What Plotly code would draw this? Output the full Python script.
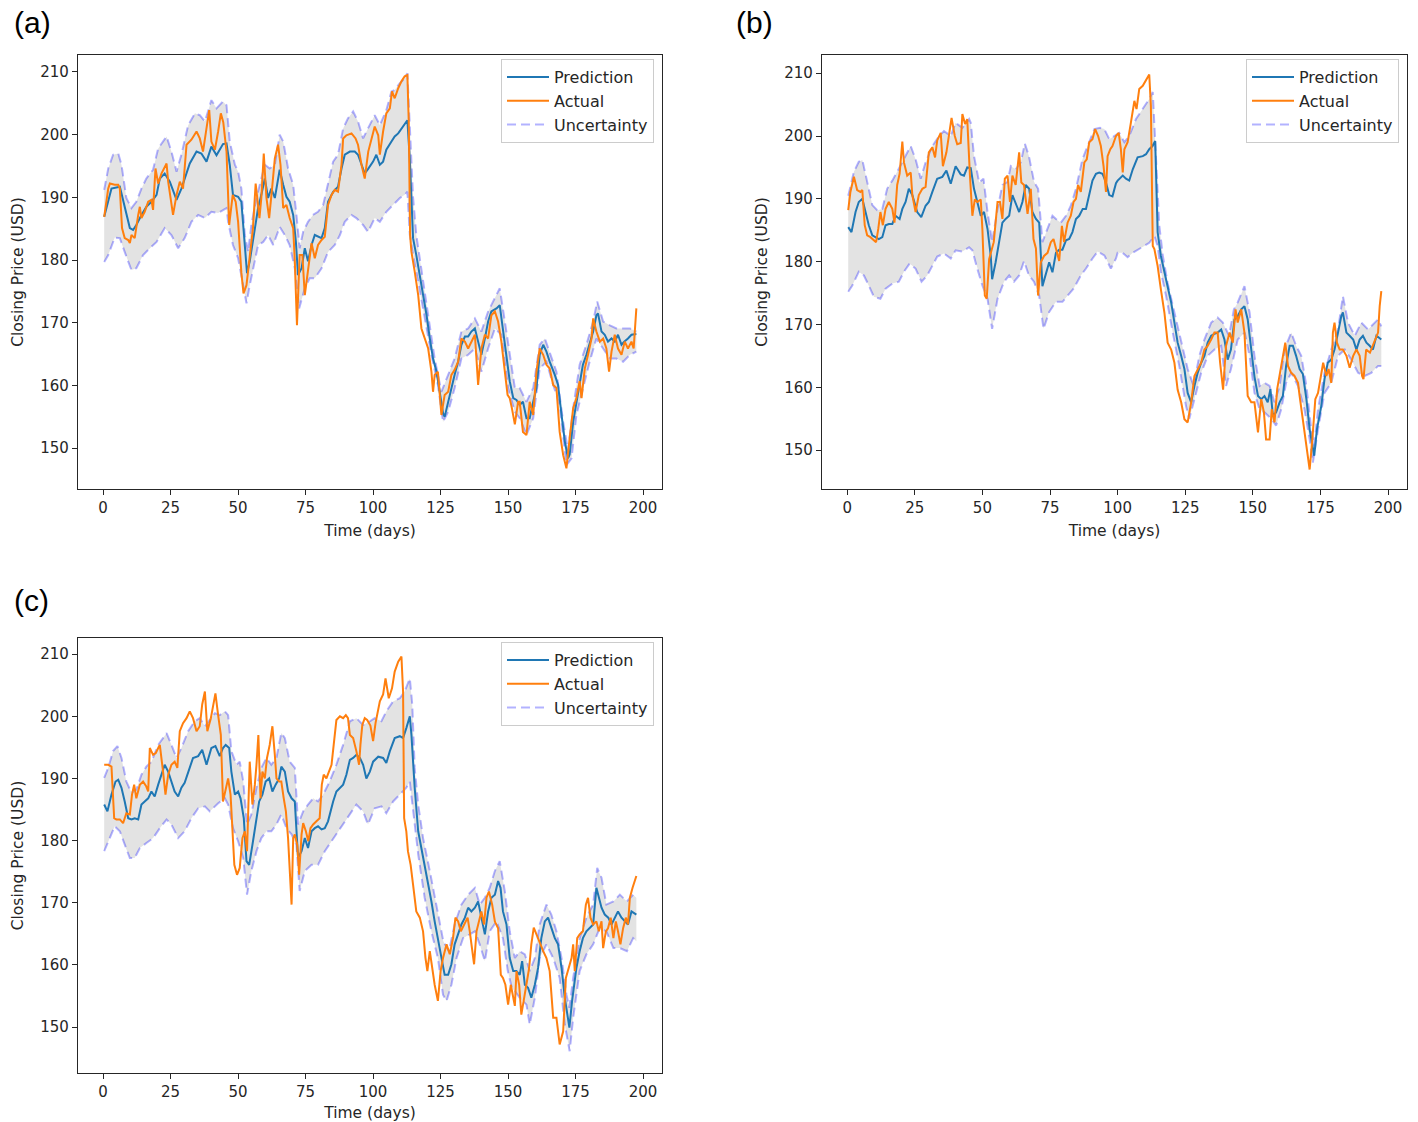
import plotly.graph_objects as go

# ---------------------------------------------------------------------------
# Data: (day, closing price in USD) pairs for each series of each panel
# ---------------------------------------------------------------------------

# Panel (a)
A_ACTUAL = [(0.4,186.9),(1.9,191.4),(2.5,192.2),(4.3,192.0),(5.6,192.0),(6.2,191.4),(7.0,185.1),(8.0,183.5),(9.3,183.2),(9.9,182.7),(10.5,184.0),(11.7,183.5),(13.0,187.2),(13.6,188.5),(14.2,186.7),(15.4,187.7),(16.7,189.3),(17.9,189.6),(18.5,188.0),(19.4,194.6),(20.4,192.2),(21.6,193.8),(23.5,195.4),(24.1,192.5),(25.9,187.2),(27.2,190.4),(28.4,192.5),(29.6,191.4),(30.9,198.4),(32.7,199.2),(34.6,200.5),(35.8,199.4),(37.0,197.3),(38.3,201.0),(39.3,203.9),(40.1,198.9),(41.4,197.6),(42.6,200.5),(43.6,203.4),(44.5,202.0),(45.7,197.3),(46.7,185.6),(48.0,190.4),(49.1,189.3),(50.0,186.1),(51.2,178.0),(52.0,174.7),(53.1,176.0),(54.3,180.8),(55.5,185.1),(56.5,192.2),(57.4,188.3),(57.9,186.7),(58.6,189.9),(59.5,197.0),(60.5,189.9),(61.5,186.7),(62.7,192.0),(63.6,196.2),(64.8,198.4),(65.7,195.2),(66.7,188.3),(67.9,188.8),(69.1,186.7),(70.4,185.1),(71.0,179.8),(71.8,169.6),(72.8,180.8),(73.8,180.8),(74.7,174.4),(76.0,178.7),(77.2,182.7),(78.4,180.3),(79.6,182.4),(80.9,183.2),(82.1,183.7),(83.3,188.8),(84.6,190.4),(85.8,191.2),(87.0,190.9),(88.3,195.2),(88.9,199.4),(90.1,199.9),(92.0,200.2),(93.5,199.4),(94.4,198.4),(95.7,195.2),(96.9,193.0),(98.2,197.3),(99.4,199.4),(100.6,201.3),(101.9,199.9),(102.5,196.8),(103.7,200.5),(104.9,203.4),(106.2,204.2),(107.0,206.9),(108.0,205.8),(109.3,207.4),(110.5,208.5),(111.7,209.3),(112.7,209.5),(113.2,202.1),(113.7,184.0),(114.2,181.3),(115.4,178.2),(116.7,174.4),(117.9,169.1),(119.1,167.5),(120.4,165.9),(121.6,162.2),(122.2,159.0),(122.8,161.7),(124.0,162.2),(125.3,155.3),(126.5,158.5),(127.8,159.0),(129.0,161.7),(130.2,162.5),(131.5,163.8),(132.7,167.5),(134.0,167.0),(135.2,165.9),(136.4,167.0),(137.7,168.1),(138.9,160.1),(140.1,165.9),(141.4,168.1),(142.6,167.5),(143.8,171.2),(145.1,171.8),(146.3,170.2),(147.5,167.0),(149.8,158.5),(150.6,158.0),(151.4,156.4),(152.5,153.8),(153.7,157.4),(154.3,157.4),(155.5,152.6),(156.8,152.1),(158.0,157.4),(159.3,155.3),(160.5,162.2),(161.7,165.9),(163.0,164.9),(164.2,163.3),(165.4,162.7),(166.7,160.1),(167.9,159.6),(169.1,152.6),(170.4,148.9),(171.6,146.8),(172.8,151.6),(174.1,156.4),(175.3,158.0),(176.5,160.7),(177.2,158.0),(178.4,162.7),(179.6,164.9),(180.9,167.5),(181.5,170.7),(182.7,168.6),(184.0,167.0),(185.2,167.5),(186.4,165.9),(187.4,162.2),(188.3,165.4),(189.5,168.1),(190.7,165.9),(192.0,164.9),(193.2,167.0),(194.4,165.9),(195.7,167.0),(196.5,165.9),(197.5,172.3)]

A_PRED = [(0.4,186.9),(3.1,191.4),(6.2,191.7),(8.0,188.3),(9.9,185.1),(11.1,184.8),(12.3,185.6),(14.2,187.2),(16.0,188.5),(17.9,189.3),(19.8,190.4),(21.0,193.0),(22.8,193.8),(24.7,192.5),(27.2,189.6),(29.0,191.4),(32.1,195.4),(34.6,197.3),(36.4,197.0),(38.3,195.7),(40.1,198.1),(42.0,196.7),(44.4,198.5),(45.7,198.6),(46.9,195.2),(48.1,190.4),(50.0,190.1),(51.2,189.3),(51.9,185.0),(53.3,177.9),(54.3,179.8),(56.2,185.1),(57.4,188.3),(58.6,190.4),(59.9,193.0),(61.1,189.9),(62.3,191.4),(63.6,189.9),(65.4,194.4),(66.7,192.0),(67.9,190.1),(69.1,189.3),(70.4,187.2),(71.4,182.9),(72.2,177.6),(73.5,178.7),(74.7,181.9),(75.9,179.8),(77.2,182.4),(78.4,184.0),(79.6,183.7),(80.9,183.5),(82.1,185.1),(83.3,189.3),(85.2,190.9),(87.0,191.7),(88.3,194.6),(89.5,196.8),(91.4,197.3),(93.2,197.3),(94.4,196.8),(95.7,195.2),(96.9,193.8),(98.1,194.5),(100.0,195.7),(101.2,196.8),(102.5,195.2),(103.7,195.7),(104.9,197.6),(106.8,198.9),(108.0,199.7),(109.3,200.2),(110.5,201.0),(111.7,201.8),(112.7,202.3),(113.6,196.0),(114.2,188.8),(114.8,183.5),(116.0,180.8),(117.3,177.6),(118.5,174.4),(119.8,171.2),(121.0,167.5),(122.2,164.3),(123.5,162.2),(124.7,159.0),(125.9,155.6),(126.5,155.0),(128.1,158.0),(129.3,160.1),(130.2,161.7),(131.5,163.8),(132.7,166.5),(134.0,167.8),(135.2,167.8),(136.4,168.6),(137.7,169.1),(138.9,167.0),(140.1,164.9),(141.4,167.5),(142.6,170.2),(143.8,171.8),(145.7,172.3),(146.9,172.8),(148.1,168.6),(149.4,164.9),(150.6,160.7),(151.9,158.0),(153.1,157.7),(154.3,156.9),(155.5,157.4),(156.8,154.8),(158.0,154.8),(159.3,157.4),(160.5,159.6),(161.7,164.9),(163.0,166.5),(164.2,165.4),(165.4,163.8),(167.3,161.7),(168.5,160.1),(169.8,155.3),(171.0,151.1),(172.2,148.4),(172.8,149.0),(174.1,154.2),(175.3,157.4),(176.5,160.7),(177.7,163.3),(179.0,164.9),(180.2,166.5),(181.5,168.6),(182.7,171.2),(183.3,171.5),(184.6,168.6),(185.8,168.1),(187.0,167.0),(188.3,167.5),(189.5,167.0),(190.7,168.1),(192.0,166.5),(193.0,167.0),(194.4,167.5),(195.7,168.1),(197.5,168.2)]

A_UPPER = [(0.4,191.2),(1.9,194.6),(3.7,196.8),(5.6,197.0),(6.8,195.2),(8.6,189.9),(10.5,188.3),(12.3,189.3),(14.2,191.4),(16.0,193.0),(18.5,194.4),(20.4,197.8),(23.5,199.7),(25.3,197.3),(27.2,194.1),(29.0,196.8),(31.5,201.5),(34.0,203.4),(35.8,203.1),(37.7,202.1),(40.1,205.5),(42.0,204.2),(44.4,205.3),(45.7,204.7),(46.9,198.9),(48.8,195.2),(50.0,194.1),(51.2,191.4),(52.5,184.0),(53.7,181.3),(54.9,185.6),(56.8,189.9),(58.6,193.0),(59.9,195.2),(61.7,194.6),(63.6,195.2),(65.4,200.0),(66.7,198.9),(68.5,194.6),(70.4,192.0),(71.6,187.2),(72.8,181.9),(74.1,184.5),(75.9,186.1),(77.7,187.2),(79.6,187.7),(81.5,188.8),(83.3,192.0),(85.2,195.7),(87.0,196.8),(88.9,201.0),(90.7,202.6),(92.6,203.7),(94.4,202.1),(96.3,199.4),(98.1,201.0),(100.0,202.6),(100.6,203.1),(102.5,201.5),(104.9,203.9),(106.8,206.9),(108.0,207.1),(109.9,208.2),(111.7,209.0),(112.7,209.8),(113.6,202.1),(114.8,190.0),(116.0,184.0),(117.9,178.2),(120.4,171.2),(122.8,164.3),(125.3,159.0),(127.8,161.7),(130.2,164.3),(132.7,168.6),(135.2,169.1),(137.7,170.7),(140.1,168.6),(142.6,171.8),(145.1,174.0),(146.9,175.5),(148.8,170.2),(151.4,162.2),(152.5,159.6),(154.3,159.6),(156.8,157.4),(159.3,159.6),(161.7,166.5),(163.6,167.5),(165.4,165.4),(167.9,162.2),(170.4,154.2),(172.2,149.6),(174.1,156.4),(176.5,163.3),(179.0,166.5),(181.5,170.2),(183.0,173.4),(185.2,170.2),(187.7,169.6),(190.1,169.1),(192.6,169.1),(195.1,169.1),(197.5,168.6)]

A_LOWER = [(0.4,179.7),(1.9,180.8),(4.3,183.6),(6.2,183.5),(8.0,181.3),(10.5,178.4),(12.3,178.7),(14.8,180.8),(17.3,181.9),(19.8,182.9),(22.8,185.1),(25.3,184.0),(27.8,181.9),(30.2,183.5),(32.7,186.1),(35.2,187.2),(37.7,186.7),(40.1,187.7),(42.6,187.5),(45.7,188.3),(46.3,186.1),(48.1,182.4),(50.0,180.3),(51.2,177.6),(53.1,173.1),(54.3,176.0),(55.5,178.7),(57.4,182.4),(59.3,182.9),(61.1,184.0),(63.0,182.4),(65.4,185.3),(67.3,184.0),(69.1,182.4),(71.0,178.7),(72.6,172.3),(74.7,175.5),(76.5,177.1),(78.4,177.1),(80.9,178.7),(83.3,181.3),(85.8,182.4),(87.7,184.0),(89.5,186.1),(92.0,187.2),(93.8,186.7),(96.3,185.6),(98.1,184.5),(100.6,186.7),(102.5,186.1),(104.9,187.7),(107.4,188.8),(109.9,189.9),(111.7,190.4),(112.7,190.9),(113.6,184.0),(114.8,180.8),(116.7,176.6),(119.1,170.7),(121.6,164.9),(124.0,160.1),(125.9,154.2),(127.8,155.8),(130.2,159.6),(132.7,164.3),(135.2,164.9),(137.7,165.9),(140.1,162.2),(142.6,165.9),(145.1,169.1),(147.5,168.1),(150.0,159.6),(152.5,155.8),(154.3,154.8),(156.8,152.1),(159.3,154.8),(161.7,162.7),(164.2,163.8),(166.7,160.1),(169.1,156.9),(171.6,147.3),(173.5,148.4),(175.3,155.3),(177.7,159.6),(180.2,163.8),(182.7,167.5),(185.2,165.9),(187.7,164.3),(190.1,164.3),(192.6,163.8),(195.1,164.9),(197.5,165.4)]

# Panel (b)
B_ACTUAL = [(0.4,188.2),(1.2,191.1),(2.5,193.5),(3.7,191.4),(4.9,191.1),(5.6,191.4),(6.5,185.8),(7.4,184.2),(8.6,183.9),(9.9,183.3),(10.7,183.1),(11.5,185.2),(12.3,187.9),(13.2,185.8),(14.2,188.4),(15.4,189.5),(16.7,188.4),(17.5,186.2),(18.5,192.2),(19.4,194.0),(20.4,199.1),(21.0,195.8),(22.2,193.7),(23.5,194.2),(24.1,190.6),(25.3,187.9),(26.5,190.6),(27.8,191.6),(29.0,191.9),(30.2,197.4),(31.5,198.2),(32.5,196.6),(33.3,199.3),(34.6,200.5),(35.4,195.2),(36.7,197.4),(37.7,200.5),(38.6,202.9),(39.8,200.0),(40.7,198.7),(42.0,198.9),(42.6,203.5),(43.6,201.9),(44.4,202.7),(45.4,193.7),(46.3,187.3),(47.2,189.9),(48.1,189.5),(49.4,189.9),(50.0,185.2),(50.9,174.6),(51.6,174.1),(52.5,180.4),(53.6,181.9),(54.2,183.1),(55.6,189.5),(56.5,189.5),(57.4,186.8),(58.3,193.2),(59.3,193.7),(60.2,189.5),(61.1,193.7),(62.3,192.2),(63.6,197.4),(64.4,192.6),(65.4,192.2),(66.7,187.6),(67.9,191.6),(68.9,183.6),(69.8,182.1),(70.6,174.6),(71.6,179.9),(72.8,180.9),(74.1,181.4),(75.3,183.1),(76.3,183.6),(77.2,181.9),(78.4,180.1),(79.4,185.7),(80.2,183.1),(81.5,186.2),(82.7,187.3),(83.7,189.5),(84.6,190.0),(85.4,192.2),(86.4,191.1),(87.7,195.8),(88.6,196.3),(89.5,199.0),(90.7,199.5),(91.7,201.1),(92.8,200.0),(93.8,198.4),(94.8,195.2),(95.7,191.1),(96.3,196.8),(97.3,197.9),(98.1,198.4),(99.4,200.0),(100.4,200.5),(101.2,197.9),(101.9,194.2),(102.5,197.9),(103.7,199.0),(104.9,202.1),(106.2,205.6),(107.0,204.3),(108.0,207.5),(109.3,208.0),(110.5,208.8),(111.7,209.8),(112.3,204.8),(113.0,182.5),(113.6,182.0),(114.8,179.3),(116.0,175.6),(117.3,171.9),(118.5,167.1),(119.8,166.0),(121.0,163.9),(122.2,159.6),(123.5,157.6),(124.7,154.9),(125.9,154.4),(127.2,157.6),(128.4,161.8),(129.6,162.9),(130.9,163.9),(132.1,166.0),(133.3,166.6),(134.6,167.6),(135.8,168.7),(137.0,168.7),(137.9,163.9),(139.0,159.6),(140.1,166.6),(141.4,168.7),(142.6,167.1),(143.6,172.4),(144.4,170.3),(145.7,172.4),(146.9,168.7),(148.1,158.6),(149.4,157.6),(150.6,157.6),(151.9,152.8),(153.1,158.1),(154.1,156.0),(154.9,151.7),(156.2,151.7),(157.0,156.5),(158.0,154.4),(159.0,159.7),(159.9,161.8),(161.1,165.0),(162.0,167.1),(163.0,163.4),(164.2,162.3),(165.4,161.8),(166.7,160.7),(167.3,158.6),(168.5,154.9),(169.8,151.2),(171.0,146.9),(172.0,151.7),(173.1,158.1),(174.1,159.1),(175.3,161.8),(176.0,163.9),(177.2,161.8),(178.0,162.9),(179.0,160.7),(179.6,168.7),(180.2,170.3),(181.1,167.1),(182.1,166.0),(183.3,166.0),(184.6,165.0),(185.8,163.1),(187.1,165.0),(188.3,166.0),(189.5,165.0),(190.4,161.8),(190.9,161.3),(191.9,166.0),(193.3,165.5),(194.4,166.6),(196.3,168.7),(196.9,172.9),(197.5,175.3)]

B_PRED = [(0.4,185.5),(1.6,184.7),(3.1,187.9),(4.3,189.5),(5.6,190.0),(6.8,187.9),(8.0,185.8),(9.3,184.2),(10.5,183.9),(11.7,183.6),(13.0,183.9),(14.2,185.8),(15.4,186.0),(16.7,186.0),(17.9,187.3),(19.4,186.8),(20.4,188.4),(21.6,189.5),(22.8,191.6),(24.1,190.6),(25.9,187.9),(27.4,187.1),(29.0,188.9),(30.2,189.5),(31.5,191.1),(33.3,193.2),(35.2,193.5),(36.7,194.5),(38.3,192.4),(40.1,195.2),(42.0,193.9),(43.2,193.7),(44.4,195.0),(45.7,194.9),(46.9,191.6),(48.1,189.5),(49.4,187.3),(50.6,187.9),(51.9,185.2),(53.1,180.9),(53.6,177.2),(54.9,179.9),(56.2,183.1),(57.4,186.2),(58.6,186.8),(59.9,187.3),(61.1,190.6),(62.3,189.3),(63.6,187.9),(64.8,189.5),(66.0,192.2),(67.3,191.6),(68.5,187.9),(69.8,186.8),(71.0,186.2),(72.2,176.1),(73.5,178.3),(74.7,179.9),(75.9,178.3),(77.2,181.4),(78.4,181.9),(79.6,181.9),(80.9,183.4),(82.1,183.6),(83.3,184.7),(84.6,186.8),(85.8,187.3),(87.1,188.4),(88.3,188.4),(89.5,190.6),(90.7,192.9),(92.0,194.0),(93.2,194.2),(94.4,194.0),(95.7,192.6),(96.9,190.6),(98.1,190.4),(99.4,192.5),(100.0,192.9),(101.9,193.7),(103.1,193.2),(104.3,192.9),(105.6,194.7),(107.4,196.6),(109.3,196.8),(110.5,197.1),(111.7,197.9),(112.9,198.4),(113.9,199.2),(114.4,191.0),(114.8,184.7),(116.0,180.9),(117.3,178.3),(118.5,176.1),(119.8,173.5),(121.0,170.3),(122.2,167.1),(123.5,165.0),(124.7,162.9),(125.9,159.1),(127.2,157.6),(128.4,160.2),(129.6,162.3),(130.9,163.9),(132.1,165.0),(133.3,167.1),(134.6,168.2),(135.8,168.5),(137.0,168.7),(138.3,169.2),(139.5,167.6),(140.7,164.4),(141.9,166.0),(143.2,170.8),(144.4,171.3),(145.7,172.4),(146.9,172.9),(148.1,170.8),(149.4,166.0),(150.6,161.7),(151.9,158.6),(153.1,158.1),(154.3,158.6),(155.5,157.6),(156.5,159.7),(157.4,155.5),(158.6,156.0),(159.9,157.6),(161.1,158.6),(162.3,163.4),(163.6,166.6),(164.8,166.6),(166.0,165.0),(167.3,162.9),(168.5,162.1),(169.8,158.1),(171.0,153.3),(172.2,150.1),(172.7,149.1),(173.7,153.3),(175.3,157.0),(176.5,161.3),(177.7,163.9),(179.0,164.4),(180.2,166.0),(181.5,168.7),(182.7,171.3),(183.3,171.9),(184.6,168.7),(185.8,168.2),(187.1,167.6),(188.3,166.0),(189.5,167.6),(190.7,168.2),(192.0,167.1),(193.2,166.6),(194.4,166.0),(195.7,168.2),(197.5,167.6)]

B_UPPER = [(0.4,190.5),(2.5,194.3),(4.3,195.9),(5.6,196.2),(7.4,192.7),(9.3,189.0),(11.1,188.2),(13.0,188.4),(14.8,191.6),(16.7,192.9),(19.1,194.8),(21.6,196.8),(23.5,198.4),(25.3,196.3),(27.2,193.2),(29.0,195.8),(31.5,198.4),(34.0,200.0),(35.8,200.8),(38.3,200.0),(40.1,202.1),(42.6,201.3),(45.1,202.7),(45.7,202.1),(46.9,196.8),(48.8,192.6),(50.4,193.2),(51.9,187.9),(53.6,183.1),(55.6,188.4),(57.4,192.2),(59.3,192.7),(60.5,195.2),(62.3,194.7),(64.2,195.8),(65.7,198.8),(67.2,196.8),(69.1,192.7),(70.6,191.6),(72.2,183.1),(74.1,185.2),(75.9,187.3),(77.2,186.8),(79.0,186.2),(80.9,187.3),(82.7,188.9),(84.6,191.6),(87.0,196.3),(88.9,198.4),(91.4,201.1),(93.5,201.3),(95.1,201.1),(96.9,199.5),(98.8,200.0),(100.6,200.5),(102.5,199.0),(104.3,200.0),(106.8,202.7),(109.3,204.3),(111.7,205.9),(113.0,207.0),(114.2,196.8),(115.4,185.8),(116.7,181.0),(118.5,176.6),(121.0,171.9),(123.5,167.1),(125.9,162.9),(128.1,160.2),(130.2,165.0),(132.1,167.6),(134.6,170.3),(137.0,171.1),(138.9,170.3),(141.2,168.2),(143.0,172.4),(144.4,173.5),(146.9,176.1),(148.8,171.9),(150.6,165.0),(152.5,160.2),(154.3,160.7),(156.2,160.2),(158.0,157.6),(159.9,160.2),(161.7,166.0),(164.2,168.7),(166.0,166.6),(167.9,165.0),(169.8,160.2),(171.6,153.3),(172.7,150.7),(174.1,156.5),(176.5,162.3),(179.0,166.0),(181.5,169.2),(183.3,174.5),(185.2,170.3),(187.7,168.2),(190.1,170.3),(192.6,169.2),(195.1,170.3),(196.3,170.8),(197.5,169.7)]

B_LOWER = [(0.4,175.2),(1.9,176.2),(4.3,178.4),(6.2,177.8),(8.0,176.2),(9.9,174.4),(12.3,174.1),(14.2,175.7),(16.7,176.5),(19.1,176.8),(21.0,178.4),(23.1,179.7),(25.3,178.9),(27.5,176.8),(29.6,177.8),(31.5,179.4),(33.3,180.8),(35.8,181.3),(38.3,180.5),(40.1,181.8),(42.6,181.6),(45.1,182.3),(46.3,181.8),(48.1,178.9),(50.0,176.2),(51.9,174.1),(53.6,169.3),(55.6,174.1),(58.0,176.8),(59.9,177.8),(61.7,176.8),(63.6,177.8),(65.4,180.1),(67.2,177.8),(69.1,176.8),(71.0,174.6),(72.6,169.3),(74.7,172.0),(77.2,173.6),(79.6,173.6),(81.5,174.6),(83.7,175.7),(86.4,177.8),(88.3,178.9),(90.7,180.5),(92.6,181.6),(95.1,181.0),(97.5,178.9),(99.4,180.5),(100.0,181.4),(101.9,181.4),(103.7,180.7),(105.6,181.4),(107.4,181.9),(109.9,182.5),(111.7,183.0),(113.6,184.1),(114.8,182.5),(116.0,178.4),(117.9,174.6),(120.4,168.7),(122.8,163.4),(125.3,157.0),(126.5,155.0),(128.4,158.1),(130.9,162.3),(133.3,165.0),(135.8,166.0),(138.3,166.6),(140.1,160.2),(141.9,162.9),(144.4,167.6),(147.0,168.7),(148.8,165.0),(150.6,159.1),(152.5,156.5),(154.3,156.0),(156.8,155.0),(158.6,153.9),(160.5,156.5),(162.3,160.7),(164.2,162.3),(166.7,160.2),(169.1,156.5),(171.0,151.7),(172.2,148.0),(174.1,153.3),(176.5,159.1),(179.0,160.7),(181.5,165.0),(184.0,166.0),(186.4,164.4),(188.9,162.3),(191.4,161.8),(193.8,162.3),(196.3,163.4),(197.5,163.4)]

# Panel (c)
C_ACTUAL = [(0.4,192.2),(1.9,192.2),(3.1,191.9),(4.1,183.6),(4.9,183.4),(6.2,183.4),(7.4,182.8),(8.6,184.4),(9.9,184.2),(10.7,187.4),(11.5,189.0),(12.3,186.8),(13.6,189.0),(14.8,189.5),(16.0,188.7),(16.7,187.9),(17.3,194.9),(18.5,193.8),(19.5,194.1),(21.0,195.4),(22.2,191.1),(23.1,187.4),(24.1,190.6),(25.3,192.2),(26.5,192.7),(27.5,191.7),(28.4,197.6),(29.6,198.9),(30.9,199.7),(32.1,200.8),(33.3,199.7),(34.6,197.6),(35.8,198.4),(36.7,201.9),(37.7,204.0),(38.6,197.6),(39.9,199.7),(40.7,201.9),(41.6,203.7),(42.6,200.2),(43.6,197.0),(44.4,186.3),(46.3,190.0),(47.2,187.4),(48.6,176.1),(49.6,174.5),(50.6,175.6),(51.6,180.4),(52.5,181.5),(53.3,178.3),(54.3,192.7),(55.3,185.8),(56.2,189.0),(56.8,192.2),(57.5,197.0),(58.3,186.8),(59.0,191.1),(59.9,190.0),(60.7,193.3),(61.7,195.4),(62.7,198.4),(63.6,193.8),(64.2,190.0),(65.2,189.5),(66.0,189.5),(66.9,186.8),(67.7,184.7),(68.5,180.4),(69.1,175.1),(69.8,169.7),(70.4,180.4),(71.0,181.0),(71.9,179.3),(72.6,174.5),(73.5,181.0),(74.1,182.8),(75.1,181.5),(76.0,179.9),(76.8,182.0),(77.8,182.6),(79.0,183.1),(80.2,183.6),(81.0,189.0),(81.7,190.6),(82.7,190.0),(83.7,191.1),(84.6,192.2),(85.4,195.4),(86.4,199.4),(87.7,200.0),(88.9,199.7),(89.9,200.2),(90.7,199.7),(91.4,197.0),(92.6,196.5),(93.8,194.4),(94.8,192.2),(95.3,195.4),(96.0,198.6),(96.9,199.7),(97.8,199.4),(99.0,198.5),(100.0,196.0),(100.9,198.9),(102.5,202.4),(103.7,203.5),(104.6,206.1),(105.8,202.9),(107.0,204.5),(108.0,207.2),(109.3,208.8),(110.5,209.6),(111.1,204.0),(111.5,183.6),(112.3,181.5),(112.9,178.3),(113.9,176.1),(114.8,172.9),(116.0,168.6),(117.3,167.6),(118.5,165.4),(119.4,161.1),(120.1,159.0),(121.0,162.2),(121.8,159.5),(122.8,156.8),(124.0,154.2),(125.0,159.0),(125.9,161.1),(127.2,163.3),(128.4,161.7),(129.6,164.3),(130.5,167.6),(131.5,167.0),(132.5,165.4),(133.7,166.5),(135.0,167.6),(135.8,165.4),(136.7,162.7),(137.4,160.1),(138.3,165.4),(139.3,167.0),(140.1,168.6),(141.1,166.5),(142.0,170.8),(142.9,171.8),(144.1,169.7),(145.1,167.0),(146.3,165.9),(147.3,158.4),(148.1,157.9),(149.0,156.8),(150.0,153.6),(151.0,156.8),(152.5,153.4),(153.1,159.0),(154.1,156.8),(154.9,152.0),(156.2,155.8),(157.0,157.4),(157.8,159.5),(158.6,163.3),(159.5,166.0),(160.5,164.9),(161.7,163.3),(163.0,162.2),(164.2,161.1),(165.4,159.0),(166.7,151.5),(167.9,151.5),(169.1,147.2),(170.4,149.3),(171.4,157.9),(172.2,159.0),(173.5,161.1),(174.1,163.3),(174.7,159.0),(175.6,164.3),(176.5,164.9),(177.7,165.4),(178.8,169.7),(179.6,170.8),(180.5,167.6),(181.5,166.5),(182.7,167.0),(183.6,165.4),(184.6,167.0),(185.2,162.7),(186.2,165.4),(187.0,165.9),(188.0,167.6),(189.0,164.3),(189.9,167.0),(190.7,165.4),(191.6,163.3),(192.6,165.9),(193.6,167.6),(194.4,166.5),(195.1,170.8),(196.1,172.4),(197.5,174.3)]

C_PRED = [(0.4,185.8),(1.6,184.7),(3.1,187.4),(4.6,189.5),(5.6,189.8),(6.8,188.5),(8.0,186.3),(9.3,183.6),(10.5,183.4),(11.7,183.6),(13.0,183.4),(14.2,185.8),(15.4,186.3),(16.7,186.8),(17.9,187.9),(19.1,187.1),(20.4,189.0),(21.6,190.6),(22.8,192.2),(24.1,191.1),(25.3,189.5),(26.5,187.9),(27.8,187.1),(29.0,188.5),(30.2,189.3),(31.5,191.1),(33.3,193.3),(35.2,193.6),(36.7,194.6),(38.3,192.2),(40.1,194.9),(41.6,195.2),(43.2,193.6),(44.4,194.9),(45.4,195.4),(46.7,194.9),(47.5,191.1),(48.8,187.4),(50.0,187.9),(50.9,186.8),(52.1,183.6),(53.1,176.7),(54.1,176.1),(55.3,179.3),(56.5,182.6),(57.8,186.3),(59.0,187.4),(60.2,189.5),(61.5,190.0),(62.7,187.9),(63.9,189.0),(65.2,190.0),(66.0,191.9),(67.3,191.1),(68.5,187.9),(69.8,186.8),(71.0,186.3),(72.2,177.2),(73.5,178.3),(74.7,180.4),(75.9,178.8),(77.2,181.5),(78.4,182.0),(79.6,182.3),(80.9,181.8),(82.1,182.0),(83.3,183.1),(83.9,184.2),(85.2,186.3),(86.4,187.9),(87.7,188.5),(88.9,189.0),(90.1,190.6),(91.4,193.0),(92.6,193.3),(93.8,193.8),(95.1,193.3),(96.3,192.2),(97.5,190.0),(98.8,191.1),(100.0,192.7),(101.9,193.5),(103.7,193.3),(104.9,192.5),(106.2,194.4),(108.0,196.5),(109.9,196.8),(111.1,196.5),(112.3,198.1),(113.6,200.0),(114.2,197.0),(115.4,188.5),(116.7,181.5),(117.9,178.8),(119.1,176.1),(120.4,173.5),(121.6,170.2),(122.8,167.0),(124.0,164.3),(125.3,161.1),(126.5,158.4),(127.8,158.4),(129.0,160.1),(130.2,163.3),(131.5,164.9),(132.7,166.5),(134.0,167.6),(135.2,169.2),(136.4,168.6),(137.7,169.2),(138.9,170.2),(140.1,167.6),(141.4,164.9),(142.6,168.6),(143.8,170.8),(145.1,171.3),(146.3,173.5),(147.2,172.4),(148.1,168.6),(149.4,166.5),(150.6,161.1),(151.9,159.0),(153.1,159.0),(154.3,158.4),(155.2,160.6),(156.2,156.8),(157.4,156.3),(158.6,154.7),(159.9,156.8),(161.1,159.5),(162.3,164.3),(163.6,167.0),(164.8,167.6),(166.0,166.0),(167.3,164.3),(168.5,163.3),(169.8,159.5),(171.0,154.7),(172.2,151.5),(172.7,149.9),(173.7,154.2),(175.3,159.5),(176.5,162.2),(177.7,164.3),(179.0,165.4),(180.2,165.9),(181.5,166.5),(182.7,172.4),(183.6,170.8),(184.6,169.2),(185.8,168.1),(187.1,167.6),(188.3,166.5),(189.5,167.6),(190.7,168.6),(192.0,167.6),(193.2,167.0),(194.4,166.5),(195.7,168.6),(197.5,168.1)]

C_UPPER = [(0.4,190.1),(1.9,191.7),(3.7,194.4),(5.3,195.2),(6.8,193.3),(8.6,189.5),(10.5,187.7),(12.3,188.2),(14.2,190.6),(16.0,191.9),(17.9,192.7),(20.4,195.4),(22.2,196.5),(23.5,197.3),(25.3,195.4),(27.2,193.3),(29.0,194.9),(31.5,197.6),(33.9,199.2),(35.8,199.7),(37.7,198.4),(39.5,199.4),(41.4,200.5),(43.2,200.2),(45.1,200.8),(46.3,200.2),(47.5,194.4),(49.4,192.2),(50.6,192.7),(51.9,189.5),(53.3,182.6),(54.9,184.2),(56.8,188.5),(58.6,191.7),(60.5,193.3),(62.3,192.2),(64.2,193.3),(66.0,197.3),(67.3,196.5),(69.1,192.7),(71.0,191.7),(72.2,182.6),(74.1,184.7),(75.9,185.8),(77.8,186.8),(79.6,186.3),(81.5,187.4),(83.9,189.5),(86.4,192.2),(88.9,195.4),(91.4,199.2),(93.8,199.7),(96.3,198.6),(98.8,199.2),(100.6,199.7),(103.1,199.2),(104.9,200.8),(107.4,202.4),(109.9,202.9),(111.7,204.0),(113.6,206.1),(114.5,201.9),(115.4,191.7),(116.7,185.8),(118.5,180.4),(121.0,175.1),(123.5,169.2),(126.0,163.8),(128.1,162.2),(130.2,166.5),(132.7,169.7),(135.2,171.3),(137.7,172.4),(139.5,169.7),(141.4,170.8),(143.2,172.4),(145.1,175.1),(146.9,176.7),(148.8,171.8),(150.6,165.4),(152.5,161.1),(154.3,162.2),(156.2,161.7),(158.0,159.0),(159.9,161.1),(161.7,166.5),(164.2,169.7),(166.0,168.1),(167.9,165.4),(169.8,161.1),(171.6,155.2),(172.7,153.1),(174.1,157.9),(176.5,164.3),(179.0,167.6),(181.5,169.7),(183.0,175.6),(184.6,174.0),(186.4,169.7),(189.0,170.2),(191.4,171.3),(194.0,170.2),(196.3,171.3),(197.5,170.8)]

C_LOWER = [(0.4,178.3),(2.5,180.4),(4.3,182.3),(6.2,181.5),(8.0,179.3),(9.9,177.2),(11.7,177.2),(13.6,178.8),(16.0,179.6),(18.5,180.4),(21.0,182.0),(23.5,183.4),(25.3,182.6),(27.8,180.4),(30.2,181.5),(32.7,183.6),(35.2,185.2),(37.7,185.5),(39.5,184.7),(42.6,186.0),(45.1,186.8),(46.3,185.8),(48.1,182.0),(50.0,179.9),(51.9,177.2),(53.3,171.3),(54.9,175.1),(56.8,178.3),(58.6,180.4),(60.5,181.5),(62.3,181.5),(64.2,182.6),(66.0,184.2),(67.9,182.0),(69.8,181.0),(71.6,179.3),(72.8,171.9),(74.7,175.1),(77.2,176.1),(79.6,176.1),(82.1,178.3),(83.7,179.3),(86.4,181.0),(88.9,182.6),(91.4,184.2),(93.8,185.8),(96.3,184.7),(98.1,182.6),(100.6,185.2),(103.1,185.5),(104.9,184.4),(107.4,186.3),(109.9,187.4),(112.3,188.5),(113.6,189.5),(114.8,184.7),(116.7,177.8),(119.1,170.8),(121.6,165.4),(124.0,161.1),(125.9,155.2),(127.2,154.2),(129.0,156.8),(130.9,161.1),(133.3,164.3),(135.8,164.9),(137.7,165.4),(139.5,163.3),(141.4,160.6),(143.2,165.4),(145.7,167.0),(148.1,164.3),(149.9,159.0),(151.4,156.3),(152.5,155.8),(154.3,154.7),(156.8,153.6),(158.0,150.4),(159.9,154.7),(161.7,161.1),(164.2,163.3),(166.7,161.1),(169.1,157.9),(171.0,150.4),(172.8,146.1),(174.1,151.5),(176.5,159.0),(179.0,161.7),(181.5,163.3),(183.9,165.9),(186.4,165.4),(189.0,162.7),(191.4,162.7),(194.0,162.2),(196.3,164.3),(197.5,163.8)]

X_TICKS = [0, 25, 50, 75, 100, 125, 150, 175, 200]
Y_TICKS = [150, 160, 170, 180, 190, 200, 210]
PANEL_LABELS = ["(a)", "(b)", "(c)"]
X_TITLE = "Time (days)"
Y_TITLE = "Closing Price (USD)"

# ---------------------------------------------------------------------------
# Styling
# ---------------------------------------------------------------------------
W, H = 1418, 1122
FONT = "DejaVu Sans"
BLUE = "#1f77b4"
ORANGE = "#ff7f0e"
BOUND = "rgba(0,0,255,0.3)"
FILL = "#e3e3e3"
AXIS = "#262626"


def unzip(pairs):
    return [p[0] for p in pairs], [p[1] for p in pairs]


def px_domain(lo, hi, size, flip=False):
    if flip:
        return [1 - hi / size, 1 - lo / size]
    return [lo / size, hi / size]


# Axes boxes in pixels: (left, right, top, bottom)
boxes = [(78, 662, 55, 489), (822, 1407, 55, 489), (78, 662, 638, 1073)]
y_ranges = [[143.5, 212.7], [143.8, 212.9], [142.6, 212.6]]
x_range = [-9.3, 207.0]
# panel-letter anchor (left x, vertical centre) in pixels
label_pos = [(12, 22), (734, 22), (12, 600)]

panels = [
    (A_ACTUAL, A_PRED, A_UPPER, A_LOWER),
    (B_ACTUAL, B_PRED, B_UPPER, B_LOWER),
    (C_ACTUAL, C_PRED, C_UPPER, C_LOWER),
]

fig = go.Figure()
layout = dict(
    width=W, height=H, autosize=False,
    margin=dict(l=0, r=0, t=0, b=0),
    paper_bgcolor="white", plot_bgcolor="white",
    font=dict(family=FONT, size=15, color=AXIS),
    annotations=[],
)

for i, (actual, pred, upper, lower) in enumerate(panels):
    n = "" if i == 0 else str(i + 1)
    xa, ya = "x" + n, "y" + n
    leg = "legend" + n
    left, right, top, bottom = boxes[i]

    ux, uy = unzip(upper)
    lx, ly = unzip(lower)
    px_, py_ = unzip(pred)
    ax_, ay_ = unzip(actual)

    # shaded band between the bounds
    fig.add_trace(go.Scatter(
        x=ux + lx[::-1], y=uy + ly[::-1], fill="toself", fillcolor=FILL,
        line=dict(width=0), mode="lines", hoverinfo="skip", showlegend=False,
        xaxis=xa, yaxis=ya))
    # dashed bounds
    fig.add_trace(go.Scatter(
        x=ux, y=uy, mode="lines", name="Uncertainty", legend=leg,
        legendgroup="unc", legendrank=3,
        line=dict(color=BOUND, width=2, dash="9px,5px"), xaxis=xa, yaxis=ya))
    fig.add_trace(go.Scatter(
        x=lx, y=ly, mode="lines", name="Uncertainty", showlegend=False,
        legendgroup="unc",
        line=dict(color=BOUND, width=2, dash="9px,5px"), xaxis=xa, yaxis=ya))
    fig.add_trace(go.Scatter(
        x=px_, y=py_, mode="lines", name="Prediction", legend=leg,
        legendgroup="pred", legendrank=1,
        line=dict(color=BLUE, width=2), xaxis=xa, yaxis=ya))
    fig.add_trace(go.Scatter(
        x=ax_, y=ay_, mode="lines", name="Actual", legend=leg,
        legendgroup="act", legendrank=2,
        line=dict(color=ORANGE, width=2), xaxis=xa, yaxis=ya))

    axis_common = dict(
        showline=True, mirror=True, linecolor=AXIS, linewidth=1.2,
        ticks="outside", ticklen=5, tickwidth=1.2, tickcolor=AXIS,
        showgrid=False, zeroline=False,
        tickfont=dict(family=FONT, size=15, color=AXIS),
    )
    layout["xaxis" + n] = dict(
        axis_common, domain=px_domain(left, right, W), anchor=ya,
        range=x_range, tickvals=X_TICKS,
        title=dict(text=X_TITLE, font=dict(family=FONT, size=15.5, color=AXIS), standoff=9))
    layout["yaxis" + n] = dict(
        axis_common, domain=px_domain(top, bottom, H, flip=True), anchor=xa,
        range=y_ranges[i], tickvals=Y_TICKS,
        title=dict(text=Y_TITLE, font=dict(family=FONT, size=15.5, color=AXIS), standoff=12))

    layout[leg] = dict(
        x=(right - 8) / W, y=1 - (top + 4) / H, xanchor="right", yanchor="top",
        bgcolor="rgba(255,255,255,0.8)", bordercolor="#cccccc", borderwidth=1,
        font=dict(family=FONT, size=16, color=AXIS), tracegroupgap=5,
        itemwidth=42, traceorder="normal")

    lx0, ly0 = label_pos[i]
    layout["annotations"].append(dict(
        text=PANEL_LABELS[i], xref="paper", yref="paper",
        x=lx0 / W, y=1 - ly0 / H, xanchor="left", yanchor="middle",
        showarrow=False, font=dict(family="Liberation Sans", size=30, color="black")))

fig.update_layout(**layout)
fig.write_html("out.html")
